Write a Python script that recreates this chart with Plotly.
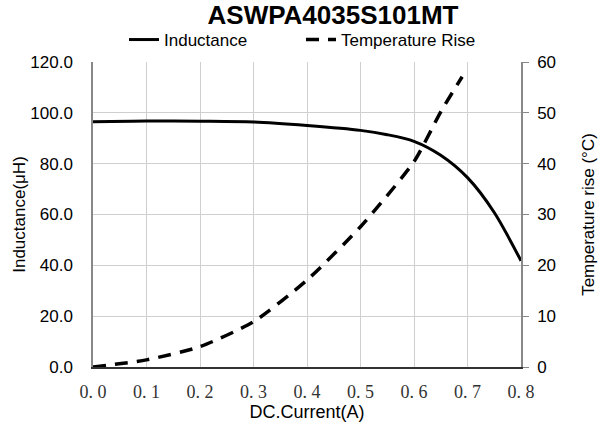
import plotly.graph_objects as go

current = [0, 0.1, 0.2, 0.3, 0.4, 0.5, 0.55, 0.6, 0.65, 0.7, 0.75, 0.8]
inductance = [96.5, 96.8, 96.7, 96.4, 95.0, 93.1, 91.4, 88.8, 83.3, 74.5, 60.8, 41.8]

temp_current = [0, 0.1, 0.2, 0.3, 0.4, 0.5, 0.6, 0.65, 0.69]
temp_rise = [0, 1.4, 4.0, 8.9, 17.1, 27.6, 40.4, 50.2, 57.1]

x_ticks = [0, 0.1, 0.2, 0.3, 0.4, 0.5, 0.6, 0.7, 0.8]
x_labels = ["0. 0", "0. 1", "0. 2", "0. 3", "0. 4", "0. 5", "0. 6", "0. 7", "0. 8"]
y1_ticks = [0, 20, 40, 60, 80, 100, 120]
y1_labels = ["0.0", "20.0", "40.0", "60.0", "80.0", "100.0", "120.0"]
y2_ticks = [0, 10, 20, 30, 40, 50, 60]

SANS = "Liberation Sans, Arial, sans-serif"

fig = go.Figure()
fig.add_trace(go.Scatter(x=current, y=inductance, mode="lines", name="Inductance",
                         line=dict(color="black", width=3, shape="spline", smoothing=0.8)))
fig.add_trace(go.Scatter(x=temp_current, y=temp_rise, mode="lines", name="Temperature Rise",
                         yaxis="y2",
                         line=dict(color="black", width=3.5, dash="13px,9px", shape="spline", smoothing=0.6)))

fig.update_layout(
    width=606, height=432,
    margin=dict(l=93, r=85, t=62, b=65, autoexpand=False),
    paper_bgcolor="white", plot_bgcolor="white",
    font=dict(family=SANS, size=17, color="black"),
    title=dict(text="<b>ASWPA4035S101MT</b>", x=333 / 606, xanchor="center",
               y=1 - 15 / 432, yanchor="middle", yref="container",
               font=dict(family=SANS, size=26, color="black")),
    legend=dict(orientation="h", x=(124 - 93) / 428, xanchor="left",
                y=1 + 22 / 305, yanchor="middle", entrywidth=132,
                font=dict(family=SANS, size=17), bgcolor="rgba(0,0,0,0)",
                traceorder="normal"),
    showlegend=True,
    xaxis=dict(range=[0, 0.8], tickvals=x_ticks, ticktext=x_labels,
               tickfont=dict(family="Liberation Serif, serif", size=18, color="#333"),
               ticklabelstandoff=8,
               showgrid=True, gridcolor="#cfcfcf", gridwidth=1,
               showline=True, linecolor="#333", linewidth=1.5,
               ticks="", zeroline=False,
               title=dict(text="DC.Current(A)", font=dict(family=SANS, size=18), standoff=3)),
    yaxis=dict(range=[0, 120], tickvals=y1_ticks, ticktext=y1_labels,
               showgrid=True, gridcolor="#cfcfcf", gridwidth=1,
               showline=True, linecolor="#888", linewidth=1.5,
               ticks="", zeroline=False, tickfont=dict(size=17),
               ticklabelstandoff=15,
               title=dict(text="Inductance(μH)", font=dict(size=17), standoff=0)),
    yaxis2=dict(range=[0, 60], tickvals=y2_ticks, overlaying="y", side="right",
                showgrid=False, showline=True, linecolor="#888", linewidth=1.5,
                ticks="outside", ticklen=6, tickcolor="#888", zeroline=False,
                tickfont=dict(size=17), ticklabelstandoff=5,
                title=dict(text="Temperature rise (°C)", font=dict(size=17), standoff=27)),
)

fig.write_html("out.html")
